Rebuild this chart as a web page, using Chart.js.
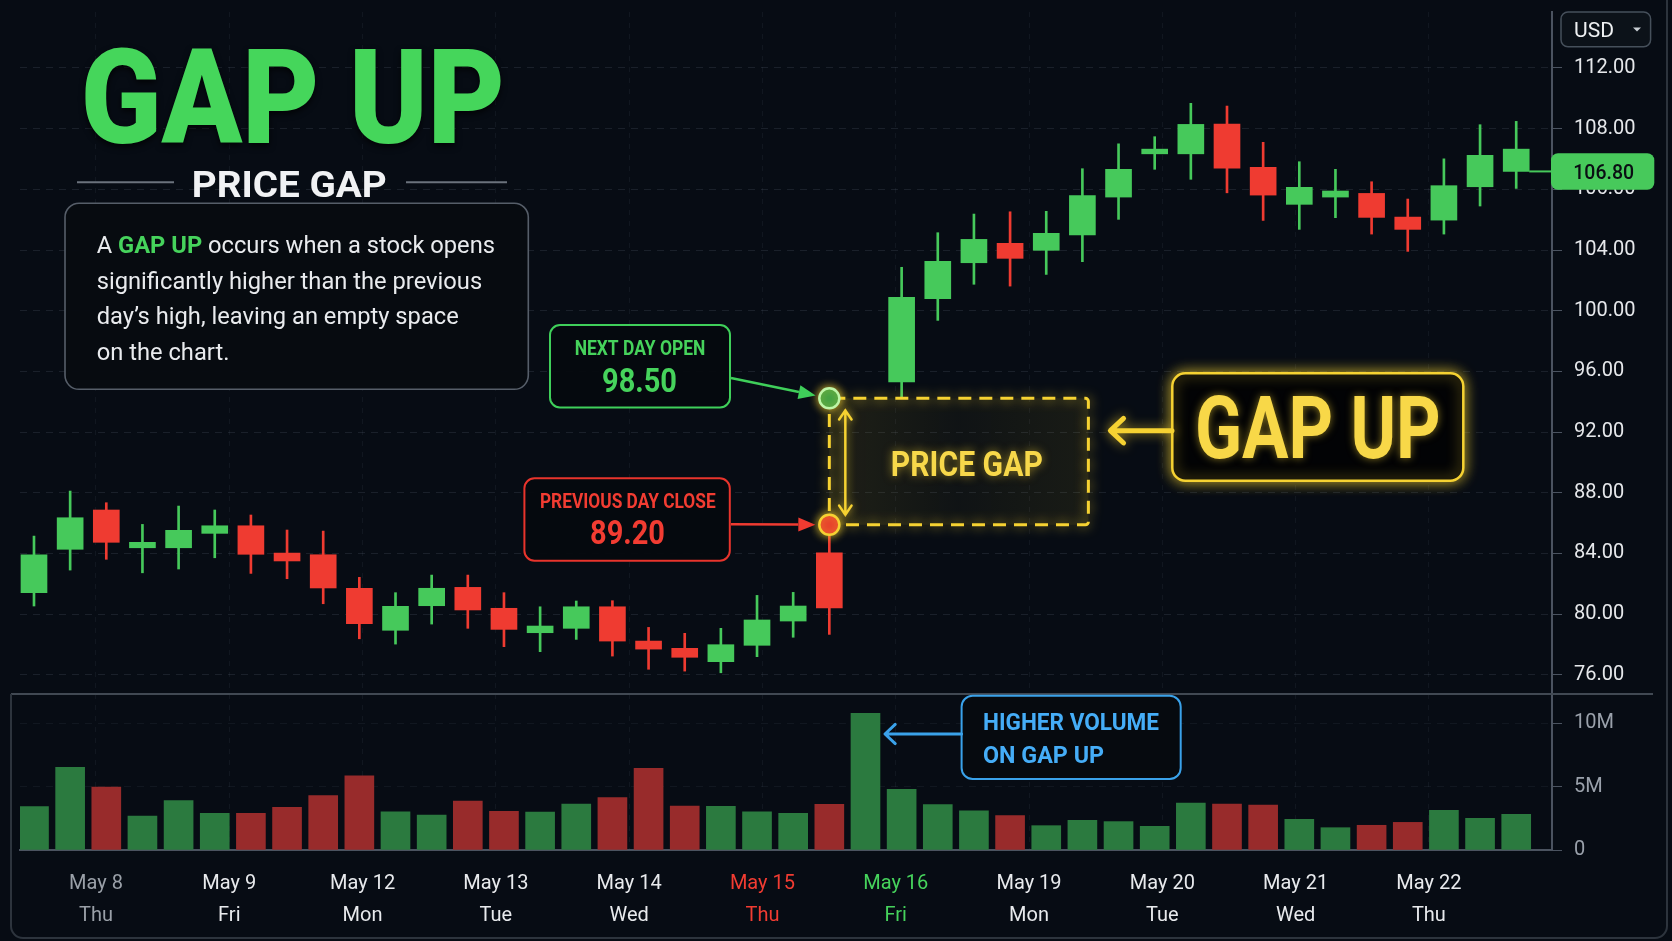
<!DOCTYPE html>
<html>
<head>
<meta charset="utf-8">
<title>Gap Up - Price Gap</title>
<script src="https://cdn.jsdelivr.net/npm/chart.js@4.4.1/dist/chart.umd.min.js"></script>
<style>
html,body{margin:0;padding:0;background:#070c14;overflow:hidden;}
#wrap{position:relative;width:1672px;height:941px;}
canvas{display:block;}
</style>
</head>
<body>
<div id="wrap"><canvas id="c" width="1672" height="941"></canvas></div>
<script>
// ---------------- DATA ----------------
const candleSlots = [0,1,2,3,4,5,6,7,8,9,10,11,12,13,14,15,16,17,18,19,20,21,22,23,24,25,26,27,28,29,30,31,32,33,34,35,36,37,38,39,40,41];
const opens  = [81.41,84.27,86.86,84.37,84.37,85.32,85.82,84.02,83.91,81.70,78.93,80.55,81.76,80.38,78.77,79.06,80.48,78.22,77.74,76.86,77.94,79.54,84.04,null,95.31,100.79,103.16,104.44,103.98,105.00,107.49,110.34,110.34,112.30,109.45,107.01,107.49,107.73,106.17,105.97,108.17,109.18];
const highs  = [85.14,88.11,87.34,85.91,87.12,86.86,86.53,85.54,85.47,82.42,81.41,82.57,82.57,81.41,80.48,80.86,80.88,79.12,78.73,79.06,81.23,81.43,85.89,null,102.86,105.14,106.37,106.52,106.55,109.36,111.00,111.47,113.67,113.49,111.10,109.82,109.32,108.50,107.36,110.01,112.26,112.48];
const lows   = [80.53,82.90,83.61,82.72,82.97,83.71,82.68,82.33,80.68,78.37,78.02,79.34,79.06,77.85,77.52,78.33,77.23,76.36,76.24,76.13,77.19,78.47,78.66,null,94.22,99.36,101.74,101.62,102.39,103.23,106.02,109.32,108.66,107.77,105.95,105.36,106.13,105.05,103.91,105.05,106.90,108.06];
const closes = [83.91,86.35,84.73,84.73,85.52,85.82,83.94,83.50,81.72,79.36,80.51,81.70,80.27,78.99,79.21,80.48,78.22,77.69,77.15,77.98,79.61,80.53,80.40,null,100.88,103.25,104.70,103.45,105.10,107.58,109.32,110.65,112.28,109.40,107.62,108.13,107.89,106.15,105.36,108.24,110.24,110.65];
const volumes = [3.42,6.53,4.97,2.68,3.89,2.90,2.90,3.37,4.29,5.86,3.02,2.76,3.87,3.05,3.00,3.63,4.13,6.45,3.47,3.45,3.02,2.90,3.61,10.79,4.79,3.58,3.10,2.71,1.92,2.34,2.24,1.87,3.71,3.63,3.55,2.42,1.76,1.95,2.18,3.13,2.50,2.82];

const dayDates    = ['May 8','May 9','May 12','May 13','May 14','May 15','May 16','May 19','May 20','May 21','May 22'];
const dayWeekdays = ['Thu','Fri','Mon','Tue','Wed','Thu','Fri','Mon','Tue','Wed','Thu'];

const priceTickValues = [76,80,84,88,92,96,100,104,108,112,116];
const priceTickLabels = ['76.00','80.00','84.00','88.00','92.00','96.00','100.00','104.00','106.00','108.00','112.00'];
const volumeTickValues = [0,5,10];
const volumeTickLabels = ['0','5M','10M'];

const prevCloseLabel = '89.20';
const nextOpenLabel  = '98.50';
const lastPriceLabel = '106.80';
const prevDayIndex = 22;   // candle before the gap
const gapDayIndex  = 24;   // gap-up candle
const gapBoxEndIndex = 29;
const volumeSpikeIndex = 23;

// ---------------- LAYOUT / STYLE ----------------
const dayTickStart = 1.715, dayTickStep = 3.687;
const C = {
  bg:'#070c14', up:'#46c95b', down:'#ef3b31', volUp:'#2b7a3f', volDown:'#982b2b',
  grid:'rgba(140,155,178,0.14)', gridX:'rgba(140,155,178,0.08)', axis:'#4b5360',
  tick:'#e6e8eb', tickDim:'#9aa1ab', yellow:'#f6d232', green:'#46d35c', red:'#f23c32', blue:'#45adf7'
};
const FONT = 'Roboto, "Noto Sans", "DejaVu Sans", sans-serif';
Chart.defaults.font.family = FONT;

const isUp = i => opens[i] == null || closes[i] >= opens[i];
const present = candleSlots.filter(i => opens[i] != null);

// ---------------- HELPERS ----------------
function rrect(ctx, x, y, w, h, r){
  ctx.beginPath();
  ctx.moveTo(x + r, y);
  ctx.arcTo(x + w, y, x + w, y + h, r);
  ctx.arcTo(x + w, y + h, x, y + h, r);
  ctx.arcTo(x, y + h, x, y, r);
  ctx.arcTo(x, y, x + w, y, r);
  ctx.closePath();
}
function runs(ctx, parts, x, y, o){
  o = o || {};
  ctx.save();
  let total = 0;
  const ws = parts.map(p => { ctx.font = p.font; const w = ctx.measureText(p.t).width; total += w; return w; });
  const sx = o.width ? o.width / total : (o.sx || 1);
  const W = total * sx;
  const left = o.align === 'center' ? x - W / 2 : (o.align === 'right' ? x - W : x);
  ctx.translate(left, y);
  ctx.scale(sx, 1);
  ctx.textAlign = 'left';
  ctx.textBaseline = 'alphabetic';
  if (o.glow){ ctx.shadowColor = o.glow; ctx.shadowBlur = o.blur || 10; }
  if (o.shadow){ ctx.shadowColor = o.shadow; ctx.shadowBlur = 6; ctx.shadowOffsetY = 3; }
  let cx = 0;
  parts.forEach((p, k) => { ctx.font = p.font; ctx.fillStyle = p.color; ctx.fillText(p.t, cx, 0); cx += ws[k]; });
  ctx.restore();
  return sx;
}
function line(ctx, x1, y1, x2, y2, color, w, dash){
  ctx.save(); ctx.strokeStyle = color; ctx.lineWidth = w; ctx.setLineDash(dash || []);
  ctx.beginPath(); ctx.moveTo(x1, y1); ctx.lineTo(x2, y2); ctx.stroke(); ctx.restore();
}
function filledArrow(ctx, x1, y1, x2, y2, color, w, hl, hw){
  const a = Math.atan2(y2 - y1, x2 - x1);
  const bx = x2 - hl * Math.cos(a), by = y2 - hl * Math.sin(a);
  ctx.save();
  ctx.strokeStyle = color; ctx.fillStyle = color; ctx.lineWidth = w;
  ctx.beginPath(); ctx.moveTo(x1, y1); ctx.lineTo(bx, by); ctx.stroke();
  ctx.beginPath();
  ctx.moveTo(x2, y2);
  ctx.lineTo(bx + hw / 2 * Math.sin(a), by - hw / 2 * Math.cos(a));
  ctx.lineTo(bx - hw / 2 * Math.sin(a), by + hw / 2 * Math.cos(a));
  ctx.closePath(); ctx.fill();
  ctx.restore();
}
function chevron(ctx, tx, ty, angle, len, spread){
  ctx.moveTo(tx + len * Math.cos(angle + spread), ty + len * Math.sin(angle + spread));
  ctx.lineTo(tx, ty);
  ctx.lineTo(tx + len * Math.cos(angle - spread), ty + len * Math.sin(angle - spread));
}
function openArrow(ctx, x1, y1, x2, y2, color, w, hl, glow){
  const a = Math.atan2(y1 - y2, x1 - x2);
  ctx.save();
  ctx.strokeStyle = color; ctx.lineWidth = w; ctx.lineCap = 'round'; ctx.lineJoin = 'round';
  if (glow){ ctx.shadowColor = glow; ctx.shadowBlur = 12; }
  ctx.beginPath(); ctx.moveTo(x1, y1); ctx.lineTo(x2 + 2 * Math.cos(a), y2 + 2 * Math.sin(a));
  chevron(ctx, x2, y2, a, hl, 0.75);
  ctx.stroke();
  ctx.restore();
}
function noPad(s){ s.paddingTop = 0; s.paddingBottom = 0; s.paddingLeft = 0; s.paddingRight = 0; }

// ---------------- OVERLAY PLUGINS ----------------
function gapGeometry(chart){
  const xs = chart.scales.x, ys = chart.scales.y;
  return {
    xL: xs.getPixelForValue(prevDayIndex),
    xR: xs.getPixelForValue(gapBoxEndIndex) + 6,
    yT: ys.getPixelForValue(lows[gapDayIndex]),
    yB: ys.getPixelForValue(highs[prevDayIndex])
  };
}
const gapUnderlay = {
  id:'gapUnderlay',
  beforeDatasetsDraw(chart){
    const ctx = chart.ctx;
    const {xL, xR, yT, yB} = gapGeometry(chart);
    ctx.save();
    const g = ctx.createLinearGradient(xL, 0, xR, 0);
    g.addColorStop(0, 'rgba(246,210,50,0.10)');
    g.addColorStop(0.5, 'rgba(246,210,50,0.04)');
    g.addColorStop(1, 'rgba(246,210,50,0.08)');
    ctx.fillStyle = g;
    ctx.fillRect(xL, yT, xR - xL, yB - yT);
    ctx.restore();
  }
};

const overlay = {
  id:'overlay',
  afterDraw(chart){
    const ctx = chart.ctx, xs = chart.scales.x, ys = chart.scales.y;

    // ---- panel frame ----
    line(ctx, 11, 694, 1653, 694, '#414953', 2);
    ctx.save();
    ctx.strokeStyle = '#2d343d'; ctx.lineWidth = 2;
    ctx.beginPath();
    ctx.moveTo(11, 694); ctx.lineTo(11, 926); ctx.arcTo(11, 938, 23, 938, 12);
    ctx.lineTo(1655, 938); ctx.arcTo(1667, 938, 1667, 926, 12); ctx.lineTo(1667, 0);
    ctx.stroke(); ctx.restore();

    // ---- title block ----
    runs(ctx, [{t:'GAP UP', font:'900 132px ' + FONT, color:'#45d65b'}], 80.7, 143.3, {width:424.3, shadow:'rgba(0,0,0,0.75)'});
    line(ctx, 77, 182.3, 174, 182.3, '#6b727c', 2);
    line(ctx, 406, 182.3, 507, 182.3, '#6b727c', 2);
    runs(ctx, [{t:'PRICE GAP', font:'700 37px ' + FONT, color:'#f1f2f4'}], 191.7, 196.7, {width:195});

    ctx.save();
    rrect(ctx, 65, 203.3, 463.3, 186, 14);
    ctx.fillStyle = 'rgba(7,11,17,0.96)'; ctx.fill();
    ctx.strokeStyle = '#565e69'; ctx.lineWidth = 1.6; ctx.stroke();
    ctx.restore();
    const reg = '400 24px ' + FONT, bold = '700 24px ' + FONT, wht = '#e9ebee';
    const sx = runs(ctx, [{t:'A ', font:reg, color:wht}, {t:'GAP UP', font:bold, color:C.green}, {t:' occurs when a stock opens', font:reg, color:wht}], 96.7, 253.3, {width:398.3});
    runs(ctx, [{t:'significantly higher than the previous', font:reg, color:wht}], 96.7, 288.8, {sx});
    runs(ctx, [{t:'day\u2019s high, leaving an empty space', font:reg, color:wht}], 96.7, 324.4, {sx});
    runs(ctx, [{t:'on the chart.', font:reg, color:wht}], 96.7, 360, {sx});

    // ---- gap box ----
    const {xL, xR, yT, yB} = gapGeometry(chart);
    ctx.save();
    ctx.shadowColor = 'rgba(246,210,50,0.85)'; ctx.shadowBlur = 12;
    ctx.strokeStyle = C.yellow; ctx.lineWidth = 3; ctx.setLineDash([13, 8]);
    rrect(ctx, xL, yT, xR - xL, yB - yT, 3); ctx.stroke();
    ctx.restore();
    const ax = xL + 16;
    ctx.save();
    ctx.strokeStyle = C.yellow; ctx.lineWidth = 2.5; ctx.lineCap = 'round';
    ctx.shadowColor = 'rgba(246,210,50,0.8)'; ctx.shadowBlur = 8;
    ctx.beginPath(); ctx.moveTo(ax, yT + 12); ctx.lineTo(ax, yB - 10);
    chevron(ctx, ax, yT + 12, Math.PI / 2, 11, 0.6);
    chevron(ctx, ax, yB - 10, -Math.PI / 2, 11, 0.6);
    ctx.stroke(); ctx.restore();
    runs(ctx, [{t:'PRICE GAP', font:'700 35px ' + FONT, color:'#f7d84a'}], (ax + xR) / 2, (yT + yB) / 2 + 14, {width:152, align:'center', glow:'rgba(246,210,50,0.6)', blur:10});

    ctx.save();
    ctx.shadowColor = 'rgba(246,210,50,0.9)'; ctx.shadowBlur = 10;
    ctx.beginPath(); ctx.arc(xL, yT, 10, 0, Math.PI * 2);
    ctx.fillStyle = '#2f9c46'; ctx.fill(); ctx.lineWidth = 2.5; ctx.strokeStyle = '#bff5a8'; ctx.stroke();
    ctx.beginPath(); ctx.arc(xL, yB, 10, 0, Math.PI * 2);
    ctx.fillStyle = '#e5322b'; ctx.fill(); ctx.lineWidth = 2.5; ctx.strokeStyle = C.yellow; ctx.stroke();
    ctx.restore();

    // ---- NEXT DAY OPEN box ----
    ctx.save(); rrect(ctx, 550, 325, 180, 82.5, 10);
    ctx.fillStyle = 'rgba(5,9,14,0.95)'; ctx.fill(); ctx.strokeStyle = '#3fcf5a'; ctx.lineWidth = 2; ctx.stroke(); ctx.restore();
    runs(ctx, [{t:'NEXT DAY OPEN', font:'700 21px ' + FONT, color:C.green}], 640, 355, {width:130.7, align:'center'});
    runs(ctx, [{t:nextOpenLabel, font:'700 34px ' + FONT, color:C.green}], 639.5, 391.7, {width:75, align:'center'});
    {
      const dx = xL - 731, dy = yT - 378, d = Math.hypot(dx, dy);
      filledArrow(ctx, 731, 378, xL - dx / d * 14, yT - dy / d * 14, '#3fcf5a', 2.5, 17, 14);
    }

    // ---- PREVIOUS DAY CLOSE box ----
    ctx.save(); rrect(ctx, 524.4, 478.3, 205.4, 82.4, 10);
    ctx.fillStyle = 'rgba(5,9,14,0.95)'; ctx.fill(); ctx.strokeStyle = '#e8342c'; ctx.lineWidth = 2; ctx.stroke(); ctx.restore();
    runs(ctx, [{t:'PREVIOUS DAY CLOSE', font:'700 21px ' + FONT, color:C.red}], 627.8, 508.3, {width:175.7, align:'center'});
    runs(ctx, [{t:prevCloseLabel, font:'700 34px ' + FONT, color:C.red}], 627.5, 544, {width:75, align:'center'});
    {
      const dx = xL - 731, dy = yB - 524.3, d = Math.hypot(dx, dy);
      filledArrow(ctx, 731, 524.3, xL - dx / d * 14, yB - dy / d * 14, '#ef3b31', 2.5, 17, 14);
    }

    // ---- GAP UP callout ----
    ctx.save();
    ctx.shadowColor = 'rgba(246,210,50,0.8)'; ctx.shadowBlur = 14;
    rrect(ctx, 1172.3, 373.3, 291, 107.4, 13);
    ctx.fillStyle = '#020305'; ctx.fill();
    ctx.strokeStyle = C.yellow; ctx.lineWidth = 2.5; ctx.stroke();
    ctx.restore();
    runs(ctx, [{t:'GAP UP', font:'700 87px ' + FONT, color:'#f8d848'}], 1317.8, 458.3, {width:245.7, align:'center', glow:'rgba(246,210,50,0.55)', blur:8});
    openArrow(ctx, 1172, 430.7, xR + 22, 430.7, C.yellow, 5, 18, 'rgba(246,210,50,0.7)');

    // ---- HIGHER VOLUME callout ----
    ctx.save(); rrect(ctx, 961.6, 695.7, 219.1, 83.3, 11);
    ctx.fillStyle = 'rgba(6,10,16,0.97)'; ctx.fill(); ctx.strokeStyle = '#3aa2ea'; ctx.lineWidth = 2; ctx.stroke(); ctx.restore();
    runs(ctx, [{t:'HIGHER VOLUME', font:'700 24px ' + FONT, color:C.blue}], 983, 730, {width:176});
    runs(ctx, [{t:'ON GAP UP', font:'700 24px ' + FONT, color:C.blue}], 983, 762.7, {width:121});
    {
      const tip = xs.getPixelForValue(volumeSpikeIndex) + 14.5 + 5;
      openArrow(ctx, 961.6, 734, tip, 734, '#3aa2ea', 3, 14);
    }

    // ---- last price line + badge ----
    const last = candleSlots[candleSlots.length - 1];
    const by = ys.getPixelForValue(opens[last]);
    line(ctx, xs.getPixelForValue(last) + 13, by, 1552, by, '#46c95b', 2);
    ctx.save(); rrect(ctx, 1551, by - 18.3, 103.3, 36.6, 7);
    ctx.fillStyle = '#47c95b'; ctx.fill(); ctx.restore();
    runs(ctx, [{t:lastPriceLabel, font:'500 21px ' + FONT, color:'#0a0e13'}], 1573.3, by + 7.6, {width:60.7});

    // ---- USD selector ----
    ctx.save(); rrect(ctx, 1561, 12, 89.6, 34.8, 7);
    ctx.fillStyle = '#0c1219'; ctx.fill(); ctx.strokeStyle = '#46505b'; ctx.lineWidth = 1.5; ctx.stroke();
    ctx.restore();
    runs(ctx, [{t:'USD', font:'400 21px ' + FONT, color:'#eef0f2'}], 1574, 37.3, {width:40});
    ctx.save(); ctx.fillStyle = '#c9ced4'; ctx.beginPath();
    ctx.moveTo(1633, 27.5); ctx.lineTo(1641, 27.5); ctx.lineTo(1637, 31.5); ctx.closePath(); ctx.fill(); ctx.restore();
  }
};

// ---------------- CHART ----------------
const dayColor = i => dayDates[i] === 'May 15' ? C.red : (dayDates[i] === 'May 16' ? C.green : (i === 0 ? '#9aa0a8' : '#e8eaed'));

new Chart(document.getElementById('c'), {
  type:'bar',
  data:{
    datasets:[
      {
        label:'Wick', order:2, grouped:false, barThickness:2, yAxisID:'y',
        data: present.map(i => ({x:candleSlots[i], y:[lows[i], highs[i]]})),
        backgroundColor: c => isUp(c.raw.x) ? C.up : C.down
      },
      {
        label:'Body', order:1, grouped:false, barThickness:26, yAxisID:'y',
        data: present.map(i => ({x:candleSlots[i], y:[opens[i], closes[i]]})),
        backgroundColor: c => isUp(c.raw.x) ? C.up : C.down
      },
      {
        label:'Volume', order:3, grouped:false, barThickness:29, yAxisID:'yv',
        data: candleSlots.map(i => ({x:candleSlots[i], y:volumes[i]})),
        backgroundColor: c => isUp(c.raw.x) ? C.volUp : C.volDown
      }
    ]
  },
  options:{
    responsive:false, animation:false, events:[],
    layout:{padding:{left:20, top:12, right:0, bottom:0}},
    plugins:{legend:{display:false}, tooltip:{enabled:false}},
    scales:{
      x:{
        type:'linear', min:-0.387, max:41.99, offset:false,
        afterBuildTicks: s => { s.ticks = dayDates.map((d, k) => ({value: dayTickStart + k * dayTickStep})); },
        afterFit: s => { s.height = 91; noPad(s); },
        ticks:{
          autoSkip:false, maxRotation:0, padding:18,
          callback:(v, i) => [dayDates[i], dayWeekdays[i]],
          color: c => dayColor(c.index),
          font:{size:20, lineHeight:1.6}
        },
        grid:{offset:false, color:C.gridX, drawTicks:false},
        border:{display:true, color:C.axis, width:2, dash:[5,6]}
      },
      y:{
        type:'linear', position:'right', stack:'main', stackWeight:682,
        min:74.73, max:119.69,
        afterBuildTicks: s => { s.ticks = priceTickValues.map(v => ({value:v})); },
        afterFit: s => { s.width = 120; noPad(s); },
        ticks:{autoSkip:false, padding:12, color:C.tick, font:{size:20}, callback:(v, i) => priceTickLabels[i]},
        grid:{color:C.grid, tickColor:C.axis, tickLength:10, lineWidth:1},
        border:{display:true, color:C.axis, width:2, dash:[7,6]}
      },
      yv:{
        type:'linear', position:'right', stack:'main', stackWeight:156,
        min:0, max:12.31,
        afterBuildTicks: s => { s.ticks = volumeTickValues.map(v => ({value:v})); },
        afterFit: s => { s.width = 120; noPad(s); },
        ticks:{autoSkip:false, padding:12, color:C.tickDim, font:{size:20}, callback:(v, i) => volumeTickLabels[i]},
        grid:{color: c => c.index === 0 ? 'rgba(0,0,0,0)' : 'rgba(140,155,178,0.08)', tickColor:C.axis, tickLength:10, lineWidth:1},
        border:{display:true, color:C.axis, width:2, dash:[7,6]}
      }
    }
  },
  plugins:[gapUnderlay, overlay]
});
</script>
</body>
</html>
